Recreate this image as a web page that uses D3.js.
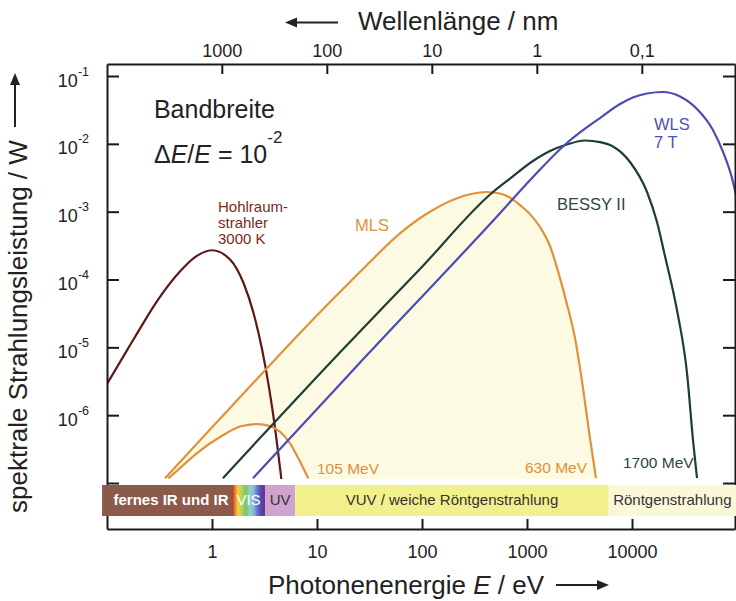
<!DOCTYPE html>
<html><head><meta charset="utf-8">
<script src="https://cdn.jsdelivr.net/npm/d3@7"></script>
<style>
html,body{margin:0;padding:0;background:#fff;}
svg{display:block;font-family:"Liberation Sans",Arial,Helvetica,sans-serif;}
</style></head><body>
<svg id="chart" width="736" height="601"></svg>
<script>
// ---- tick data ----
const energyTicks = [1, 10, 100, 1000, 10000];
const energyTickLabels = ["1", "10", "100", "1000", "10000"];
const wavelengthTicks = [1000, 100, 10, 1, 0.1];
const wavelengthTickLabels = ["1000", "100", "10", "1", "0,1"];
const powerTicks = [1e-1, 1e-2, 1e-3, 1e-4, 1e-5, 1e-6, 1e-7];
const powerTickExponents = ["-1", "-2", "-3", "-4", "-5", "-6", ""];

// ---- series (photon energy in eV, spectral power in W) ----
const blackbodyE = [0.1, 0.15, 0.2, 0.3, 0.5, 0.7, 1.0, 1.5, 2.0, 2.5, 3.0, 3.5, 4.0, 4.5, 5.0];
const blackbodyP = [2.9e-6, 8.3e-6, 1.75e-5, 4.8e-5, 1.33e-4, 2.17e-4, 2.7e-4, 1.94e-4, 8.8e-5, 3.1e-5, 9.3e-6, 2.5e-6, 6.2e-7, 1.43e-7, 3.2e-8];

const mls630E = [0.357, 1.07, 3.2, 6.9, 14.2, 29.9, 61.7, 127, 268, 416, 553, 736, 858, 1068, 1330, 1655, 2061, 2400, 2864, 3200, 3980, 4540];
const mls630P = [1.18e-7, 7.4e-7, 4.6e-6, 1.63e-5, 5.15e-5, 1.64e-4, 4.8e-4, 1.06e-3, 1.76e-3, 1.95e-3, 1.85e-3, 1.51e-3, 1.25e-3, 9.2e-4, 5.94e-4, 3.12e-4, 1.05e-4, 4.36e-5, 1.37e-5, 4.95e-6, 4.6e-7, 1.18e-7];

const mls105E = [0.384, 0.533, 0.715, 1.28, 1.85, 2.67, 3.57, 4.44, 5.53, 6.64, 7.69, 8.27];
const mls105P = [1.17e-7, 1.84e-7, 2.74e-7, 5.1e-7, 6.8e-7, 7.4e-7, 6.9e-7, 5.7e-7, 3.85e-7, 2.31e-7, 1.47e-7, 1.17e-7];

const bessyE = [1.27, 16.6, 95.7, 474, 689, 1140, 1655, 2400, 3570, 4960, 6590, 9570, 13900, 17300, 20600, 26800, 33400, 38100, 41600];
const bessyP = [1.18e-7, 8.5e-6, 1.43e-4, 1.95e-3, 3.08e-3, 5.58e-3, 7.83e-3, 9.77e-3, 1.12e-2, 1.06e-2, 9.14e-3, 5.4e-3, 1.95e-3, 7.05e-4, 2.22e-4, 3.55e-5, 4.2e-6, 4.3e-7, 1.18e-7];

const wlsE = [2.46, 22.0, 553, 1140, 2400, 3200, 4960, 7690, 10200, 13900, 19700, 28700, 41600, 59000, 73600, 89600, 97700];
const wlsP = [1.18e-7, 4.6e-6, 9.5e-4, 3.24e-3, 1.03e-2, 1.47e-2, 2.40e-2, 3.86e-2, 4.82e-2, 5.52e-2, 5.81e-2, 4.99e-2, 3.26e-2, 1.6e-2, 7.59e-3, 3.13e-3, 1.76e-3];

// ---- spectral band (photon energy edges) ----
const bandLabels = ["fernes IR und IR", "VIS", "UV", "VUV / weiche Röntgenstrahlung", "Röntgenstrahlung"];
const bandEdges = [0.0897, 1.55, 3.2, 6.2, 6000, 100000];

const floorP = 1.15e-7;   // lowest drawn power (curves end just above the band)
const hcNm = 1239.84;     // eV*nm

// ---- layout ----
const svg = d3.select("#chart");
const L = 107, R = 735, T = 64, B = 529;
const x = d3.scaleLog().domain([0.1, 95700]).range([L, R]);
const y = d3.scaleLog().domain([2.1e-8, 0.1503]).range([B, T]);
const xw = d3.scaleLog().domain([hcNm / 0.1, hcNm / 95700]).range([L, R]);

const defs = svg.append("defs");
defs.append("clipPath").attr("id", "plotClip").append("rect")
  .attr("x", L).attr("y", T).attr("width", R - L).attr("height", y(floorP) - T);
const grad = defs.append("linearGradient").attr("id", "rainbow").attr("x1", "0").attr("x2", "1").attr("y1", "0").attr("y2", "0");
[["0%", "#b8322a"], ["8%", "#e8702c"], ["17%", "#f1cf3c"], ["28%", "#b9d65a"], ["42%", "#7cc36c"], ["55%", "#92d3c2"], ["66%", "#8ab4e6"], ["78%", "#5b70d0"], ["90%", "#5a3ea6"], ["100%", "#6a3590"]]
  .forEach(s => grad.append("stop").attr("offset", s[0]).attr("stop-color", s[1]));

const curve = d3.curveMonotoneX;
const pts = (E, P) => E.map((e, i) => ({E: e, P: P[i]}));
const line = d3.line().x(d => x(d.E)).y(d => y(d.P)).curve(curve);
const area = d3.area().x(d => x(d.E)).y0(y(floorP)).y1(d => y(d.P)).curve(curve);

const plot = svg.append("g").attr("clip-path", "url(#plotClip)");
plot.append("path").datum(pts(mls630E, mls630P)).attr("d", area).attr("fill", "#fcfae2");
plot.append("path").datum(pts(mls105E, mls105P)).attr("d", area).attr("fill", "#ffffff");

const series = [
  {E: blackbodyE, P: blackbodyP, color: "#5e1616"},
  {E: mls105E, P: mls105P, color: "#e0913a"},
  {E: mls630E, P: mls630P, color: "#e0913a"},
  {E: bessyE, P: bessyP, color: "#1e3d38"},
  {E: wlsE, P: wlsP, color: "#4b4bb5"}
];
series.forEach(s => {
  plot.append("path").datum(pts(s.E, s.P)).attr("d", line)
    .attr("fill", "none").attr("stroke", s.color).attr("stroke-width", 2.2);
});

// ---- axes ----
const axisColor = "#1a1a1a";
function styleAxis(g) {
  g.select(".domain").attr("stroke", axisColor).attr("stroke-width", 2);
  g.selectAll(".tick line").attr("stroke", axisColor).attr("stroke-width", 2);
  g.selectAll(".tick text").attr("fill", "#222").attr("font-size", 18).attr("font-family", "Liberation Sans, Arial, sans-serif");
}
svg.append("g").attr("transform", `translate(0,${B})`)
  .call(d3.axisBottom(x).tickValues(energyTicks).tickFormat((d, i) => energyTickLabels[i]).tickSize(-10).tickSizeOuter(0).tickPadding(16))
  .call(styleAxis);
svg.append("g").attr("transform", `translate(0,${T})`)
  .call(d3.axisTop(xw).tickValues(wavelengthTicks).tickFormat((d, i) => wavelengthTickLabels[i]).tickSize(-10).tickSizeOuter(0).tickPadding(7))
  .call(styleAxis);
const gl = svg.append("g").attr("transform", `translate(${L},0)`)
  .call(d3.axisLeft(y).tickValues(powerTicks).tickFormat(() => "").tickSize(-12).tickSizeOuter(0))
  .call(styleAxis);
gl.selectAll(".tick").each(function(d, i) {
  const ex = powerTickExponents[i];
  if (!ex) return;
  const t = d3.select(this).append("text").attr("x", -18).attr("y", 10)
    .attr("text-anchor", "end").attr("fill", "#222").attr("font-size", 18);
  t.append("tspan").text("10");
  t.append("tspan").attr("dy", -11).attr("font-size", 12.5).text(ex);
});
svg.append("g").attr("transform", `translate(${R},0)`)
  .call(d3.axisRight(y).tickValues(powerTicks).tickFormat(() => "").tickSize(-12).tickSizeOuter(0))
  .call(styleAxis);

// ---- spectral band ----
const bandTop = B - 44, bandH = 31;
const bandFills = ["#8c5a4a", "url(#rainbow)", "#cfa3cd", "#f2f08c", "#fbf8d8"];
const bandText = ["#ffffff", "#ffffff", "#333333", "#333333", "#333333"];
const bandWeight = ["bold", "normal", "normal", "normal", "normal"];
const bandG = svg.append("g");
bandLabels.forEach((lab, i) => {
  const x0 = x(bandEdges[i]), x1 = Math.min(x(bandEdges[i + 1]), 736);
  bandG.append("rect").attr("x", x0).attr("y", bandTop).attr("width", x1 - x0).attr("height", bandH).attr("fill", bandFills[i]);
  bandG.append("text").attr("x", (x0 + x1) / 2 + (i === 0 ? 4 : 0)).attr("y", bandTop + 20)
    .attr("text-anchor", "middle").attr("font-size", 15).attr("font-weight", bandWeight[i])
    .attr("fill", bandText[i]).text(lab);
});

// ---- annotations ----
const ann = svg.append("g");
function label(E, P, lines, color, size, dy) {
  const t = ann.append("text").attr("x", x(E)).attr("y", y(P)).attr("fill", color).attr("font-size", size);
  lines.forEach((l, i) => t.append("tspan").attr("x", x(E)).attr("dy", i ? dy : 0).text(l));
}
label(1.14, 9.9e-4, ["Hohlraum-", "strahler", "3000 K"], "#7a2a22", 15, 16);
label(23, 5.2e-4, ["MLS"], "#e0913a", 16.5, 0);
label(1930, 1.06e-3, ["BESSY II"], "#2d4743", 16.5, 0);
label(16200, 0.016, ["WLS", "7 T"], "#5050b8", 16.5, 18);
label(10, 1.36e-7, ["105 MeV"], "#e0913a", 15.5, 0);
label(957, 1.4e-7, ["630 MeV"], "#e0913a", 15.5, 0);
label(8200, 1.66e-7, ["1700 MeV"], "#2d4743", 15.5, 0);

ann.append("text").attr("x", x(0.28)).attr("y", y(0.024)).attr("font-size", 25).attr("fill", "#222").text("Bandbreite");
const dt = ann.append("text").attr("x", x(0.28)).attr("y", y(5.2e-3)).attr("font-size", 25).attr("fill", "#222");
dt.append("tspan").text("\u0394");
dt.append("tspan").attr("font-style", "italic").text("E");
dt.append("tspan").text("/");
dt.append("tspan").attr("font-style", "italic").text("E");
dt.append("tspan").text(" = 10");
dt.append("tspan").attr("dy", -20).attr("font-size", 17).text("-2");

// ---- titles & arrows ----
const tc = "#222";
function arrow(x1, y1, x2, y2) {
  const ang = Math.atan2(y2 - y1, x2 - x1), hl = 12, hw = 5;
  const bx = x2 - hl * Math.cos(ang), by = y2 - hl * Math.sin(ang);
  svg.append("line").attr("x1", x1).attr("y1", y1).attr("x2", bx).attr("y2", by).attr("stroke", tc).attr("stroke-width", 2);
  const px = -Math.sin(ang) * hw, py = Math.cos(ang) * hw;
  svg.append("path").attr("d", `M${x2},${y2}L${bx + px},${by + py}L${bx - px},${by - py}Z`).attr("fill", tc);
}
svg.append("text").attr("x", 358).attr("y", 30).attr("font-size", 26).attr("fill", tc).text("Wellenlänge / nm");
arrow(338, 22.5, 285, 22.5);

const bt = svg.append("text").attr("x", 268).attr("y", 594).attr("font-size", 26).attr("fill", tc);
bt.append("tspan").text("Photonenenergie ");
bt.append("tspan").attr("font-style", "italic").text("E");
bt.append("tspan").text(" / eV");
arrow(556, 585, 609, 585);

svg.append("text").attr("transform", "translate(27,513) rotate(-90)").attr("font-size", 26).attr("fill", tc)
  .text("spektrale Strahlungsleistung / W");
arrow(15, 127, 15, 73);
</script>
</body></html>
